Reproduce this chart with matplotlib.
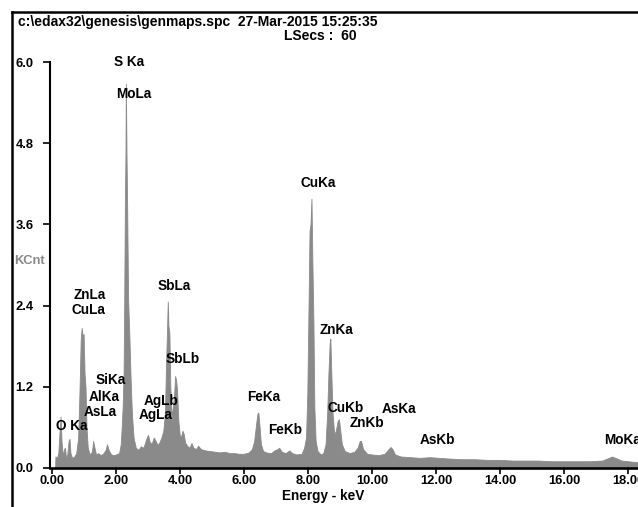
import numpy as np
import matplotlib.pyplot as plt
from matplotlib.lines import Line2D

# spectrum (energy in keV, counts in KCnt)
energy = [0.10, 0.11, 0.16, 0.20, 0.24, 0.27, 0.30, 0.34, 0.38, 0.41, 0.44, 0.48, 0.52, 0.55,
          0.58, 0.63, 0.70, 0.76, 0.82, 0.86, 0.90, 0.93, 0.96, 0.99, 1.02, 1.05, 1.08, 1.12,
          1.18, 1.25, 1.29, 1.33, 1.38, 1.45, 1.52, 1.60, 1.68, 1.72, 1.77, 1.85, 1.95, 2.05,
          2.10, 2.15, 2.18, 2.21, 2.24, 2.26, 2.28, 2.30, 2.31, 2.33, 2.35, 2.38, 2.42, 2.46,
          2.50, 2.55, 2.62, 2.70, 2.78, 2.86, 2.94, 3.00, 3.06, 3.12, 3.18, 3.24, 3.30, 3.36,
          3.42, 3.48, 3.53, 3.57, 3.60, 3.62, 3.64, 3.67, 3.70, 3.74, 3.78, 3.82, 3.85, 3.88,
          3.91, 3.95, 3.99, 4.03, 4.08, 4.12, 4.16, 4.22, 4.30, 4.36, 4.42, 4.50, 4.57, 4.65,
          4.80, 4.95, 5.10, 5.25, 5.40, 5.55, 5.70, 5.85, 6.00, 6.15, 6.25, 6.32, 6.38, 6.42,
          6.45, 6.49, 6.53, 6.60, 6.70, 6.85, 6.95, 7.05, 7.10, 7.18, 7.30, 7.42, 7.50, 7.65,
          7.80, 7.88, 7.94, 7.98, 8.02, 8.05, 8.08, 8.11, 8.14, 8.17, 8.20, 8.24, 8.30, 8.40,
          8.48, 8.55, 8.60, 8.64, 8.68, 8.70, 8.73, 8.77, 8.82, 8.87, 8.93, 8.97, 9.01, 9.06,
          9.15, 9.30, 9.45, 9.55, 9.62, 9.66, 9.72, 9.85, 10.00, 10.20, 10.40, 10.50, 10.58,
          10.64, 10.72, 10.90, 11.20, 11.50, 11.80, 12.10, 12.40, 12.80, 13.20, 13.60, 14.00,
          14.40, 14.80, 15.20, 15.60, 16.00, 16.40, 16.80, 17.20, 17.40, 17.50, 17.60, 17.80,
          18.20, 18.60, 19.00, 19.50, 20.00]
kcnt = [0.00, 0.17, 0.15, 0.22, 0.55, 0.76, 0.40, 0.18, 0.28, 0.30, 0.14, 0.20, 0.40, 0.43,
        0.22, 0.15, 0.17, 0.22, 0.45, 1.10, 1.90, 2.07, 1.95, 1.98, 1.40, 1.20, 0.60, 0.30,
        0.20, 0.24, 0.40, 0.30, 0.20, 0.22, 0.19, 0.21, 0.27, 0.35, 0.27, 0.20, 0.19, 0.21,
        0.22, 0.35, 0.60, 0.90, 1.40, 2.50, 3.90, 4.70, 5.68, 4.65, 3.90, 2.50, 1.95, 1.30,
        0.80, 0.45, 0.30, 0.27, 0.32, 0.30, 0.42, 0.49, 0.38, 0.36, 0.45, 0.40, 0.34, 0.38,
        0.45, 0.55, 0.80, 1.60, 2.10, 2.46, 2.10, 2.00, 1.20, 0.75, 0.90, 1.10, 1.36, 1.30,
        1.15, 0.70, 0.50, 0.45, 0.55, 0.50, 0.38, 0.33, 0.30, 0.37, 0.30, 0.28, 0.33, 0.28,
        0.26, 0.25, 0.24, 0.23, 0.24, 0.22, 0.22, 0.21, 0.21, 0.23, 0.28, 0.40, 0.65, 0.80,
        0.82, 0.60, 0.35, 0.25, 0.23, 0.22, 0.26, 0.28, 0.30, 0.24, 0.22, 0.26, 0.22, 0.20,
        0.21, 0.30, 0.45, 1.10, 2.45, 3.50, 3.60, 3.98, 3.00, 2.20, 0.90, 0.40, 0.25, 0.20,
        0.22, 0.35, 0.80, 1.40, 1.85, 1.91, 1.40, 0.80, 0.50, 0.55, 0.70, 0.72, 0.55, 0.35,
        0.25, 0.22, 0.24, 0.30, 0.40, 0.40, 0.28, 0.21, 0.20, 0.19, 0.21, 0.27, 0.31,
        0.28, 0.20, 0.17, 0.16, 0.15, 0.16, 0.15, 0.14, 0.13, 0.13, 0.12, 0.12,
        0.11, 0.11, 0.11, 0.10, 0.10, 0.10, 0.10, 0.11, 0.15, 0.17, 0.15, 0.11,
        0.09, 0.09, 0.08, 0.08, 0.07]

# peak labels: text, energy, height
peak_names = ['S Ka', 'MoLa', 'ZnLa', 'CuLa', 'SiKa', 'AlKa', 'AsLa', 'O Ka', 'SbLa', 'SbLb',
              'AgLb', 'AgLa', 'FeKa', 'FeKb', 'CuKa', 'ZnKa', 'CuKb', 'ZnKb', 'AsKa', 'AsKb', 'MoKa']
peak_x = [2.41, 2.56, 1.19, 1.13, 1.84, 1.63, 1.50, 0.63, 3.81, 4.08,
          3.40, 3.25, 6.63, 7.28, 8.31, 8.88, 9.19, 9.84, 10.84, 12.06, 17.83]
peak_y = [6.00, 5.52, 2.55, 2.33, 1.30, 1.05, 0.83, 0.62, 2.69, 1.61,
          0.99, 0.78, 1.05, 0.56, 4.21, 2.04, 0.89, 0.66, 0.87, 0.41, 0.41]

yticks = [0.0, 1.2, 2.4, 3.6, 4.8, 6.0]
xticks = [0, 2, 4, 6, 8, 10, 12, 14, 16, 18, 20]

W, H = 638, 507
plt.rcParams['font.family'] = ['Liberation Sans', 'DejaVu Sans']
plt.rcParams['font.weight'] = 'bold'

fig = plt.figure(figsize=(W / 100, H / 100), dpi=100)
ax = fig.add_axes([50 / W, (H - 468) / H, 642 / W, 406 / H])

ax.fill_between(energy, kcnt, 0, color='#8a8a8a', lw=0.6, edgecolor='#8a8a8a')
ax.set_xlim(-0.06, 20)
ax.set_ylim(0, 6.0)

for name, x, y in zip(peak_names, peak_x, peak_y):
    ax.text(x, y, name, ha='center', va='center', fontsize=9.8, fontweight='bold')

ax.spines['top'].set_visible(False)
ax.spines['right'].set_visible(False)
ax.spines['left'].set_linewidth(1.5)
ax.spines['bottom'].set_linewidth(1.9)

ax.set_yticks(yticks)
ax.set_yticklabels(['%.1f' % v for v in yticks], fontsize=9.3, fontweight='bold')
ax.set_xticks(xticks)
ax.set_xticklabels(['%.2f' % v for v in xticks], fontsize=9.3, fontweight='bold')
ax.tick_params(axis='y', direction='out', length=5, width=1.2, pad=7)
ax.tick_params(axis='x', direction='out', length=4, width=1.2, pad=1)

fig.text(14 / W, 1 - 261 / H, 'KCnt', color='#888888', fontsize=9.3, fontweight='bold',
         ha='left', va='center')
fig.text(323 / W, 1 - 496 / H, 'Energy - keV', fontsize=9.8, fontweight='bold',
         ha='center', va='center')
fig.text(18 / W, 1 - 22 / H, 'c:\\edax32\\genesis\\genmaps.spc  27-Mar-2015 15:25:35',
         fontsize=10, fontweight='bold', ha='left', va='center')
fig.text(320 / W, 1 - 36 / H, 'LSecs :  60', fontsize=10, fontweight='bold',
         ha='center', va='center')

# outer frame of the report
fig.add_artist(Line2D([11.5 / W, 11.5 / W], [0, 1 - 11.5 / H], color='black', lw=1.8))
fig.add_artist(Line2D([11.5 / W, 1], [1 - 11.5 / H, 1 - 11.5 / H], color='black', lw=1.8))

fig.savefig('out.png', dpi=100)
